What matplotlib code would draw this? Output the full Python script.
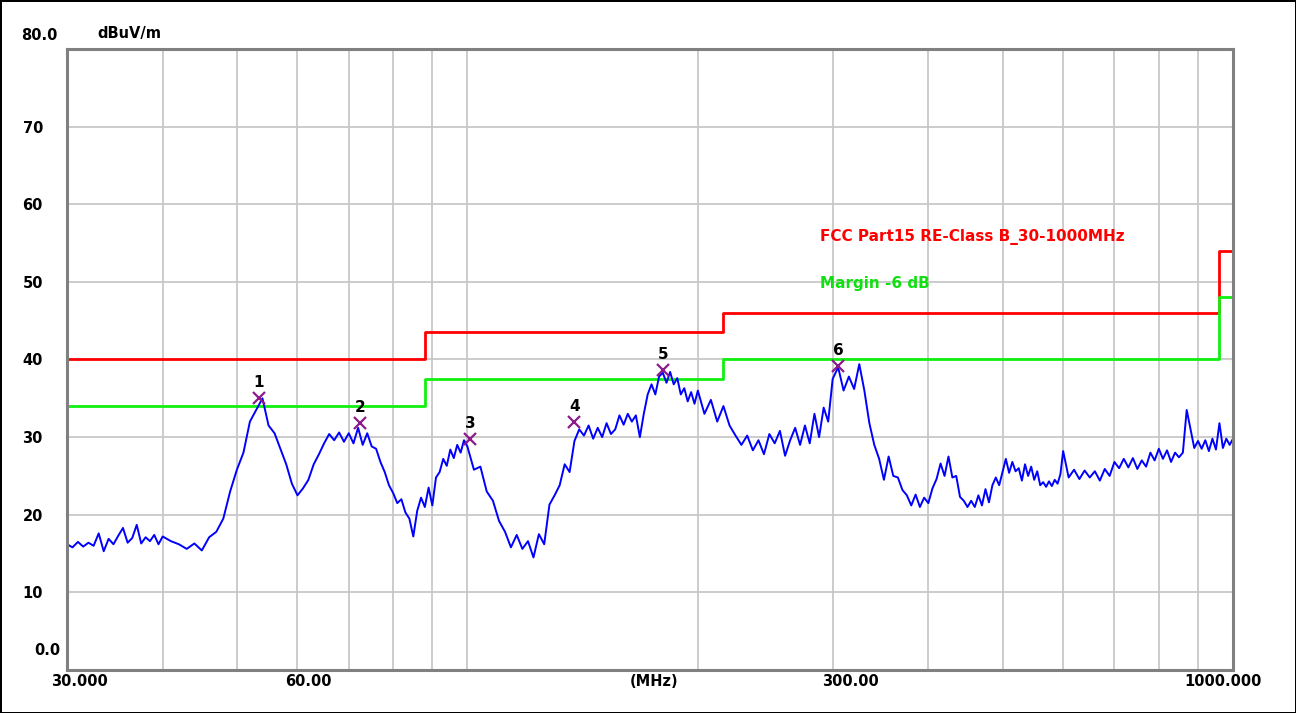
import matplotlib
matplotlib.use('Agg')
import matplotlib.pyplot as plt
from matplotlib.ticker import NullFormatter, FixedLocator

plt.rcParams['font.family'] = ['DejaVu Sans']
plt.rcParams['font.weight'] = 'bold'

freq_a = [30, 30.5, 31, 31.5, 32, 32.5, 33, 33.5, 34, 34.5,
          35, 35.5, 36, 36.5, 37, 37.5, 38, 38.5, 39, 39.5]
level_a = [16.2, 15.8, 16.5, 15.9, 16.4, 16.0, 17.6, 15.3, 16.9, 16.2,
           17.3, 18.3, 16.4, 17.0, 18.7, 16.3, 17.1, 16.6, 17.4, 16.2]

freq_b = [40, 41, 42, 43, 44, 45, 46, 47, 48, 49,
          50, 51, 52, 53, 54, 55, 56, 57, 58, 59]
level_b = [17.2, 16.6, 16.2, 15.6, 16.3, 15.4, 17.1, 17.8, 19.5, 23.0,
           25.8, 28.0, 32.0, 33.5, 35.0, 31.5, 30.5, 28.5, 26.5, 24.0]

freq_c = [60, 61, 62, 63, 64, 65, 66, 67, 68, 69,
          70, 71, 72, 73, 74, 75, 76, 77, 78, 79,
          80, 81, 82, 83, 84, 85, 86, 87, 88, 89,
          90, 91, 92, 93, 94, 95, 96, 97, 98, 99]
level_c = [22.5, 23.4, 24.5, 26.5, 27.8, 29.2, 30.4, 29.6, 30.6, 29.4,
           30.5, 29.2, 31.2, 29.0, 30.5, 28.8, 28.5, 26.8, 25.5, 23.8,
           22.8, 21.5, 22.0, 20.3, 19.5, 17.2, 20.5, 22.2, 21.0, 23.5,
           21.2, 24.8, 25.5, 27.2, 26.3, 28.4, 27.3, 29.0, 28.0, 29.6]

freq_d = [100, 102, 104, 106, 108, 110, 112, 114, 116, 118,
          120, 122, 124, 126, 128, 130, 132, 134, 136, 138,
          140, 142, 144, 146, 148, 150, 152, 154, 156, 158,
          160, 162, 164, 166, 168, 170, 172, 174, 176, 178,
          180, 182, 184, 186, 188, 190, 192, 194, 196, 198]
level_d = [28.8, 25.8, 26.2, 23.0, 21.8, 19.2, 17.8, 15.8, 17.4, 15.6,
           16.6, 14.5, 17.5, 16.2, 21.3, 22.5, 23.8, 26.5, 25.5, 29.5,
           31.0, 30.2, 31.5, 29.8, 31.2, 30.0, 31.8, 30.4, 31.0, 32.8,
           31.6, 33.0, 32.0, 32.8, 30.0, 33.0, 35.5, 36.8, 35.5, 37.8,
           38.3, 37.0, 38.4, 36.8, 37.6, 35.5, 36.3, 34.6, 35.8, 34.3]

freq_e = [200, 204, 208, 212, 216, 220, 224, 228, 232, 236,
          240, 244, 248, 252, 256, 260, 264, 268, 272, 276,
          280, 284, 288, 292, 296]
level_e = [36.0, 33.0, 34.8, 32.0, 34.0, 31.5, 30.2, 29.0, 30.2, 28.3,
           29.6, 27.8, 30.4, 29.2, 30.8, 27.6, 29.6, 31.2, 29.0, 31.5,
           29.2, 33.0, 30.0, 33.8, 32.0]

freq_f = [300, 305, 310, 315, 320, 325, 330, 335, 340, 345,
          350, 355, 360, 365, 370, 375, 380, 385, 390, 395,
          400, 405, 410, 415, 420, 425, 430, 435, 440, 445,
          450, 455, 460, 465, 470, 475, 480, 485, 490, 495,
          500, 505, 510, 515, 520, 525, 530, 535, 540, 545,
          550, 555, 560, 565, 570, 575, 580, 585, 590, 595]
level_f = [37.5, 39.0, 36.0, 37.8, 36.2, 39.4, 36.0, 31.8, 29.0, 27.2,
           24.5, 27.5, 25.0, 24.8, 23.2, 22.5, 21.2, 22.6, 21.0, 22.2,
           21.5, 23.4, 24.6, 26.6, 25.0, 27.5, 24.8, 25.0, 22.3, 21.8,
           21.0, 21.8, 21.0, 22.5, 21.2, 23.3, 21.6, 23.8, 24.8, 23.8,
           25.5, 27.2, 25.4, 26.8, 25.6, 26.0, 24.4, 26.5, 25.0, 26.2,
           24.5, 25.6, 23.8, 24.2, 23.6, 24.3, 23.7, 24.5, 24.0, 25.2]

freq_g = [600, 610, 620, 630, 640, 650, 660, 670, 680, 690,
          700, 710, 720, 730, 740, 750, 760, 770, 780, 790,
          800, 810, 820, 830, 840, 850, 860, 870, 880, 890,
          900, 910, 920, 930, 940, 950, 960, 970, 980, 990, 1000]
level_g = [28.2, 24.8, 25.8, 24.6, 25.7, 24.8, 25.6, 24.4, 25.9, 25.0,
           26.8, 26.0, 27.2, 26.1, 27.3, 25.9, 27.0, 26.2, 28.0, 27.0,
           28.5, 27.2, 28.3, 26.8, 28.0, 27.4, 28.0, 33.5, 31.0, 28.6,
           29.5, 28.5, 29.6, 28.2, 29.8, 28.4, 31.8, 28.6, 29.8, 29.0, 29.8]

# FCC Part 15 class B limit and the -6 dB margin line
limit_freq = [30, 88, 216, 960, 1000]
limit_level = [40, 43.5, 46, 54, 54]
margin_level = [34, 37.5, 40, 48, 48]

# marked peaks
peak_freq = [53.45, 72.4, 100.8, 137.9, 180.1, 304.9]
peak_level = [35.1, 31.8, 29.8, 32.0, 38.7, 39.2]
peak_label = ['1', '2', '3', '4', '5', '6']

freq = freq_a + freq_b + freq_c + freq_d + freq_e + freq_f + freq_g
level = level_a + level_b + level_c + level_d + level_e + level_f + level_g

fig = plt.figure(figsize=(12.96, 7.13), dpi=100)
fig.patch.set_edgecolor('black')
fig.patch.set_linewidth(2)
ax = fig.add_axes([0.0517, 0.0603, 0.8997, 0.8710])

ax.set_xscale('log')
ax.set_xlim(30, 1000)
ax.set_ylim(0, 80)

ax.xaxis.set_major_locator(FixedLocator([100, 1000]))
ax.xaxis.set_minor_locator(FixedLocator([40, 50, 60, 70, 80, 90,
                                         200, 300, 400, 500, 600, 700, 800, 900]))
ax.xaxis.set_major_formatter(NullFormatter())
ax.xaxis.set_minor_formatter(NullFormatter())
ax.set_yticks([10, 20, 30, 40, 50, 60, 70])
ax.set_yticklabels(['10', '20', '30', '40', '50', '60', '70'])
ax.tick_params(axis='both', which='both', length=0)
ax.tick_params(axis='y', pad=32, labelsize=10.5)
for lab in ax.get_yticklabels():
    lab.set_horizontalalignment('left')
    lab.set_fontweight('bold')

ax.grid(True, which='both', color='#c8c8c8', lw=1.3)
ax.set_axisbelow(True)
for sp in ax.spines.values():
    sp.set_color('#808080')
    sp.set_linewidth(2.2)

ax.step(limit_freq, limit_level, where='post', color='#ff0000', lw=2)
ax.step(limit_freq, margin_level, where='post', color='#10f010', lw=2)
ax.plot(freq, level, color='#0000ff', lw=1.4)
ax.plot(peak_freq, peak_level, 'x', color='#8b1a8b', ms=9, mew=1.6)
for f, l, t in zip(peak_freq, peak_level, peak_label):
    ax.annotate(t, (f, l), xytext=(0, 11), textcoords='offset points',
                ha='center', va='center', fontsize=11, fontweight='bold')

ax.text(289, 55.8, 'FCC Part15 RE-Class B_30-1000MHz', color='#ff0000',
        fontsize=11, fontweight='bold', va='center')
ax.text(289, 49.8, 'Margin -6 dB', color='#10e010',
        fontsize=11, fontweight='bold', va='center')

# axis annotations in the style of the receiver software
kw = dict(fontsize=10.5, fontweight='bold', va='center')
ax.annotate('80.0', (0, 1), xycoords='axes fraction', xytext=(-33, 10),
            textcoords='offset points', ha='left', **kw)
ax.annotate('0.0', (0, 0), xycoords='axes fraction', xytext=(-5, 14),
            textcoords='offset points', ha='right', **kw)
ax.annotate('dBuV/m', (0, 1), xycoords='axes fraction', xytext=(22, 11),
            textcoords='offset points', ha='left', **kw)
xlabels = [(30, '30.000', 9), (60, '60.00', 8), (300, '300.00', 13), (1000, '1000.000', -7)]
for f, t, dx in xlabels:
    ax.annotate(t, (f, 0), xycoords=('data', 'axes fraction'), xytext=(dx, -8),
                textcoords='offset points', ha='center', **kw)
ax.annotate('(MHz)', (0.5, 0), xycoords='axes fraction', xytext=(3, -8),
            textcoords='offset points', ha='center', **kw)

fig.savefig('out.png', dpi=100)
